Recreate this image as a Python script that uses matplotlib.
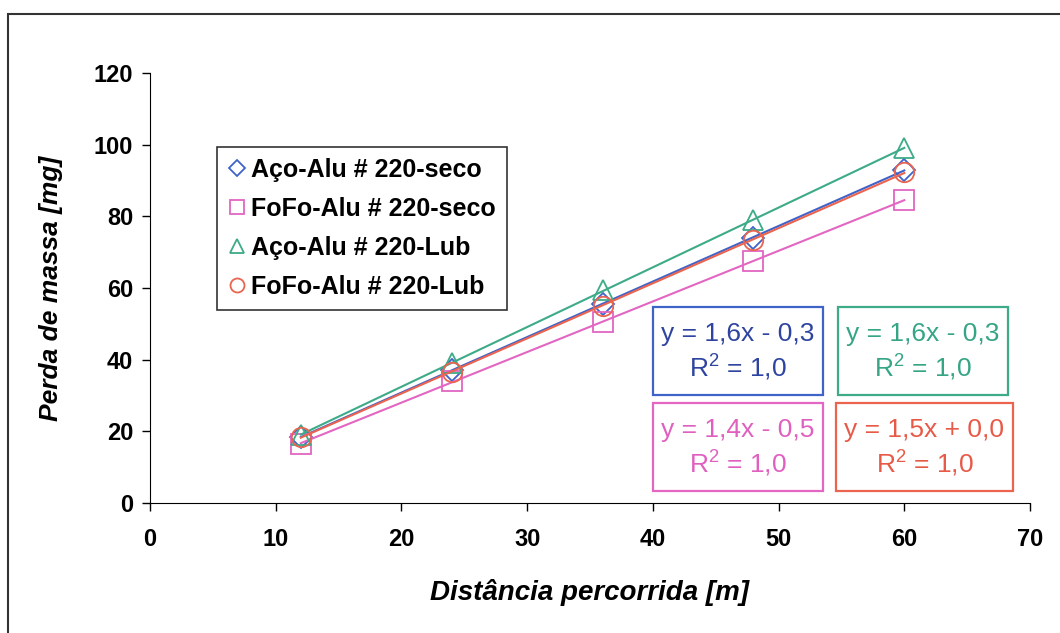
import numpy as np
import matplotlib.pyplot as plt
from matplotlib.patches import Rectangle

plt.rcParams['font.family'] = ['Liberation Sans', 'DejaVu Sans']

# distancia [m] e perda de massa [mg]
dist = [12, 24, 36, 48, 60]
aco_seco = [18.5, 37.0, 55.5, 74.0, 93.0]
fofo_seco = [16.5, 34.0, 50.5, 67.5, 84.5]
aco_lub = [19.0, 39.0, 59.5, 79.0, 99.0]
fofo_lub = [18.5, 36.5, 55.0, 73.5, 92.3]

labels = ['Aço-Alu # 220-seco', 'FoFo-Alu # 220-seco', 'Aço-Alu # 220-Lub', 'FoFo-Alu # 220-Lub']
equations = ['y = 1,6x - 0,3', 'y = 1,4x - 0,5', 'y = 1,6x - 0,3', 'y = 1,5x + 0,0']
series = [aco_seco, fofo_seco, aco_lub, fofo_lub]

colors = ['#3f63c8', '#e266c2', '#3daa88', '#ea6450']
txt_colors = ['#2e44a0', '#e060c0', '#35a585', '#e85a48']
markers = ['D', 's', '^', 'o']
msizes = [11, 14, 14, 14]

W, H = 1060, 633
fig = plt.figure(figsize=(10.6, 6.33), dpi=100)
ax = fig.add_axes([0.1415, 0.2054, 0.8302, 0.6793])

x = np.array(dist)
for ys, c, m, ms, lab in zip(series, colors, markers, msizes, labels):
    ax.plot(x, ys, linestyle='none', marker=m, markersize=ms, markerfacecolor='none',
            markeredgecolor=c, markeredgewidth=1.3, label=lab)
    # linha de tendencia
    k, d = np.polyfit(x, ys, 1)
    ax.plot(x, k * x + d, color=c, linewidth=1.5)

ax.set_xlim(0, 70)
ax.set_ylim(0, 120)
ax.set_xticks(range(0, 71, 10))
ax.set_yticks(range(0, 121, 20))
for s in ['top', 'right']:
    ax.spines[s].set_visible(False)
ax.tick_params(direction='out', length=6, width=1, labelsize=17)
for t in ax.get_xticklabels() + ax.get_yticklabels():
    t.set_fontweight('bold')
ax.tick_params(axis='x', pad=12)
ax.tick_params(axis='y', pad=6)

ax.set_xlabel('Distância percorrida [m]', fontsize=20, fontweight='bold', style='italic', labelpad=20)
ax.set_ylabel('Perda de massa [mg]', fontsize=19, fontweight='bold', style='italic', labelpad=22)

h, l = ax.get_legend_handles_labels()
leg = ax.legend(h, l, loc='upper left', bbox_to_anchor=(0.076, 0.828),
                prop={'weight': 'bold', 'size': 18}, frameon=True, fancybox=False,
                edgecolor='black', handlelength=0.7, handletextpad=0.2,
                labelspacing=0.6, borderpad=0.45, borderaxespad=0, markerscale=0.72)
leg.get_frame().set_linewidth(1.2)

# caixas com as equacoes: (esquerda, topo, largura, altura) em px
boxes = [(653, 307, 170, 88, 0), (838, 307, 170, 88, 2),
         (653, 403, 170, 88, 1), (836, 403, 177, 88, 3)]
for bx, by, bw, bh, i in boxes:
    fig.patches.append(Rectangle((bx / W, 1 - (by + bh) / H), bw / W, bh / H,
                                 transform=fig.transFigure, facecolor='white',
                                 edgecolor=colors[i], linewidth=1.6, zorder=5))
    cx = (bx + bw / 2) / W
    fig.text(cx, 1 - (by + 27) / H, equations[i], color=txt_colors[i], fontsize=19,
             ha='center', va='center', zorder=6)
    fig.text(cx, 1 - (by + 61) / H, '$\\mathregular{R^2}$ = 1,0', color=txt_colors[i],
             fontsize=19, ha='center', va='center', zorder=6)

# moldura externa
fig.patches.append(Rectangle((8 / W, -0.1), 1.2, 1 - 14 / H + 0.1,
                             transform=fig.transFigure, fill=False,
                             edgecolor='#333333', linewidth=1.5))

fig.savefig('out.png', dpi=100)
